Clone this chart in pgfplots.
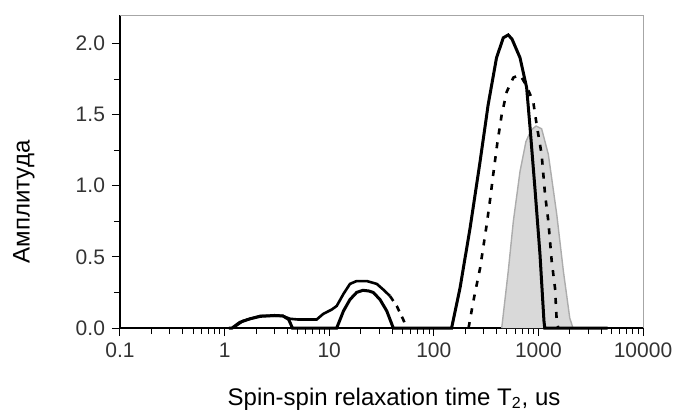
\documentclass[border=0pt]{standalone}
\usepackage{fontspec}
\setmainfont{Liberation Sans}
\usepackage{pgfplots}
\pgfplotsset{compat=1.18}
\begin{document}
\begin{tikzpicture}
\useasboundingbox (-60pt,-45.5pt) rectangle (278pt,164pt);
\begin{axis}[
  at={(0,0)}, anchor=south west,
  scale only axis, width=261.5pt, height=156.5pt,
  xmode=log, xmin=0.1, xmax=10000, ymin=0, ymax=2.2,
  axis lines*=left,
  axis line style={line width=0.8pt, black},
  tick align=outside,
  xtick={0.1,1,10,100,1000,10000},
  xticklabels={0.1,1,10,100,1000,10000},
  minor xtick={0.2,0.3,0.4,0.5,0.6,0.7,0.8,0.9,2,3,4,5,6,7,8,9,20,30,40,50,60,70,80,90,200,300,400,500,600,700,800,900,2000,3000,4000,5000,6000,7000,8000,9000},
  ytick={0,0.5,1,1.5,2},
  yticklabels={0.0,0.5,1.0,1.5,2.0},
  minor ytick={0.25,0.75,1.25,1.75},
  major tick length=4pt, minor tick length=3pt,
  every tick/.style={black, line width=0.5pt},
  ticklabel style={font=\fontsize{10.5}{12}\selectfont, text=black!80},
  xlabel={Spin-spin relaxation time T\textsubscript{2}, us},
  ylabel={Амплитуда},
  label style={font=\fontsize{12}{14}\selectfont, text=black},
  xlabel style={at={(axis description cs:0.524,-0.2268)}, anchor=center},
  ylabel style={at={(axis description cs:-0.1836,0.4026)}, anchor=center},
  clip=false,
]
% gray filled series
\addplot[draw=gray!65, line width=0.7pt, fill=black!15] coordinates {
 (446,0) (515,0.40) (576,0.75) (667,1.10) (760,1.31) (850,1.39) (950,1.42)
 (1074,1.40) (1245,1.22) (1497,0.80) (1733,0.40) (1995,0.07) (2140,0)
};
% solid series
\addplot[black, line width=1.5pt] coordinates {
 (1.1,0) (1.18,0) (1.4,0.04) (1.75,0.065) (2.2,0.082) (3.0,0.088) (3.6,0.085)
 (4.1,0.06) (4.45,0) (11.8,0) (13.7,0.12) (15.8,0.20) (18.3,0.25) (21,0.265)
 (24,0.26) (26.4,0.25) (30.6,0.20) (35.5,0.12) (41,0) (148,0) (178,0.28)
 (222,0.70) (277,1.17) (331,1.57) (398,1.90) (462,2.04) (515,2.06) (560,2.03)
 (667,1.90) (772,1.69) (832,1.41) (927,0.98) (1035,0.52) (1130,0.05) (1150,0) (4600,0)
};
% dashed series (low part drawn continuous)
\addplot[black, line width=1.3pt] coordinates {
 (1.2,0) (1.5,0.05) (2.2,0.085) (3.6,0.085) (4.2,0.065) (5,0.06) (7.6,0.06)
 (8.8,0.10) (10.6,0.13) (11.8,0.155) (13.7,0.24) (15.8,0.31) (18.3,0.33)
 (22.9,0.33) (28.5,0.31) (32.9,0.27) (38.1,0.225)
};
\addplot[black, line width=1.3pt, dash pattern=on 3pt off 3pt] coordinates {
 (38.1,0.225) (44.2,0.155) (51,0.06) (55,0)
};
\addplot[black, line width=1.3pt, dash pattern=on 3pt off 4pt] coordinates {
 (215,0) (239,0.19) (277,0.42) (321,0.73) (345,0.90) (370,1.08) (405,1.30)
 (446,1.50) (498,1.66) (576,1.76) (667,1.78) (760,1.71) (893,1.59) (962,1.43)
 (1074,1.22) (1157,0.94) (1245,0.75) (1340,0.47) (1442,0.28) (1497,0.05) (1550,0)
};
\draw[gray!70, line width=0.5pt] (rel axis cs:0,1) -- (rel axis cs:1,1) -- (rel axis cs:1,0);
\end{axis}
\end{tikzpicture}
\end{document}
